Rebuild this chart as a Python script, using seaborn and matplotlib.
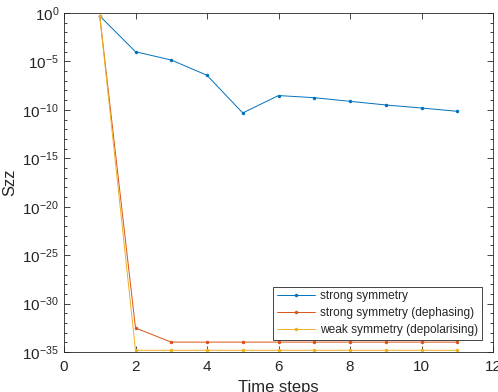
import numpy as np
import pandas as pd
import matplotlib
matplotlib.use("Agg")
import matplotlib.pyplot as plt
import matplotlib.ticker as mticker
import seaborn as sns

time_steps = [1, 2, 3, 4, 5, 6, 7, 8, 9, 10, 11]
strong = [0.5, 1e-4, 1.4e-5, 3.7e-7, 4.8e-11, 3.0e-9, 1.8e-9, 7.6e-10, 3.2e-10, 1.55e-10, 7.1e-11]
strong_dephasing = [0.5, 3.0e-33, 1.05e-34, 1.05e-34, 1.05e-34, 1.05e-34, 1.05e-34, 1.05e-34, 1.05e-34, 1.05e-34, 1.05e-34]
weak_depol = [0.5, 1.5e-35, 1.5e-35, 1.5e-35, 1.5e-35, 1.5e-35, 1.5e-35, 1.5e-35, 1.5e-35, 1.5e-35, 1.5e-35]
labels = ["strong symmetry", "strong symmetry (dephasing)", "weak symmetry (depolarising)"]
colors = ["#0072BD", "#D95319", "#EDB120"]

df = pd.DataFrame({
    "t": time_steps * 3,
    "Szz": strong + strong_dephasing + weak_depol,
    "series": [labels[0]] * 11 + [labels[1]] * 11 + [labels[2]] * 11,
})

sns.set_style("ticks")
plt.rcParams["font.family"] = ["Liberation Sans", "DejaVu Sans"]
plt.rcParams["mathtext.fontset"] = "custom"
plt.rcParams["mathtext.rm"] = "Liberation Sans"
plt.rcParams["mathtext.it"] = "Liberation Sans:italic"

fig = plt.figure(figsize=(4.98, 3.92), dpi=100)
ax = fig.add_axes([64 / 498, 40 / 392, (493 - 64) / 498, (352 - 13) / 392])

sns.lineplot(data=df, x="t", y="Szz", hue="series", palette=colors,
             marker="o", markersize=2.5, markeredgewidth=0, linewidth=0.7,
             ax=ax, legend=True)

ax.set_yscale("log")
ax.set_xlim(0, 12)
ax.set_ylim(1e-35, 1)
ax.xaxis.set_major_locator(mticker.MultipleLocator(2))
ax.yaxis.set_major_locator(mticker.FixedLocator([10.0 ** e for e in range(-35, 1, 5)]))
ax.yaxis.set_minor_locator(mticker.FixedLocator([10.0 ** e for e in range(-35, 1)]))
ax.yaxis.set_minor_formatter(mticker.NullFormatter())
ax.yaxis.set_major_formatter(mticker.FuncFormatter(lambda v, p: r"$10^{%d}$" % int(round(np.log10(v)))))

edge = "#262626"
for s in ax.spines.values():
    s.set_color(edge)
    s.set_linewidth(0.6)
    s.set_visible(True)
ax.tick_params(which="both", direction="in", top=True, right=True, colors=edge,
               labelcolor="#262626", labelsize=11, width=0.6)
ax.tick_params(which="major", length=4)
ax.tick_params(which="minor", length=2)
ax.tick_params(axis="x", pad=6)

ax.set_xlabel("Time steps", fontsize=12, color="#262626", labelpad=4)
ax.set_ylabel("Szz", fontsize=12, color="#262626", labelpad=4)

leg = ax.legend(loc="lower right", fontsize=8.6, frameon=True, fancybox=False,
                borderpad=0.3, handlelength=3.2, handletextpad=0.45, labelspacing=0.42,
                borderaxespad=0, bbox_to_anchor=((482 - 64) / 429, 12 / 339))
leg.get_frame().set_edgecolor(edge)
leg.get_frame().set_linewidth(0.6)
leg.get_frame().set_alpha(1)

fig.savefig("out.png", dpi=100)
